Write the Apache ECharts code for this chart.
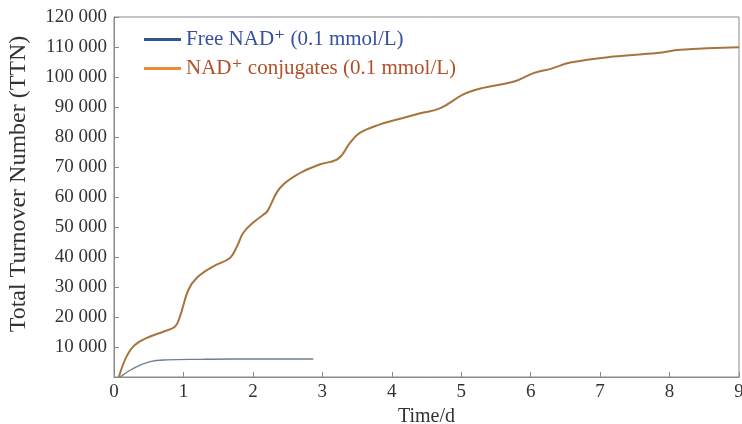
<!DOCTYPE html>
<html>
<head>
<meta charset="utf-8">
<script src="https://cdn.jsdelivr.net/npm/echarts@6/dist/echarts.min.js"></script>
<style>
  html, body { margin: 0; padding: 0; background: #fff; }
  #ttn_chart { width: 742px; height: 424px; }
</style>
</head>
<body>
<div id="ttn_chart"></div>
<script>
// 数据
const freeTime = [0.09, 0.28, 0.52, 0.76, 1.24, 1.72, 2.87];
const freeTTN = [0, 2900, 5100, 5700, 5900, 6000, 6000];

const conjTime = [0.07, 0.18, 0.30, 0.52, 0.71, 0.88, 0.95, 1.07, 1.19, 1.43, 1.67, 1.77, 1.86, 2.0, 2.15, 2.21,
    2.39, 2.68, 2.97, 3.23, 3.40, 3.54, 3.83, 4.12, 4.41, 4.70, 5.03, 5.30, 5.75, 6.04, 6.30, 6.57, 7.19, 7.82, 8.16, 9.0];
const conjTTN = [0, 6800, 10700, 13500, 15100, 16800, 20200, 29000, 33000, 36900, 39700, 43500, 48000, 51400, 54100, 55300,
    63000, 68000, 70900, 72800, 78100, 81400, 84200, 86100, 87900, 89600, 94200, 96300, 98400, 101300, 102800, 104800, 106800, 108000, 109100, 109900];

const seriesNames = ['Free NAD\u207A (0.1 mmol/L)', 'NAD\u207A conjugates (0.1 mmol/L)'];
const xTicks = [0, 1, 2, 3, 4, 5, 6, 7, 8, 9];

function pairs(xs, ys) {
    let out = [];
    for (let i = 0; i < xs.length; i++) {
        out.push([xs[i], ys[i]]);
    }
    return out;
}

const serif = '"Liberation Serif", "DejaVu Serif", serif';
const axisGray = '#8a8a8a';

let chart = echarts.init(document.getElementById('ttn_chart'));
let option = {
    animation: false,
    textStyle: { fontFamily: serif },
    grid: {
        left: 114, right: 3, top: 17, bottom: 47,
        outerBoundsMode: 'none',
        show: true, borderColor: axisGray, borderWidth: 1
    },
    legend: {
        left: 139, top: 24,
        orient: 'vertical',
        itemGap: 8,
        itemWidth: 37,
        itemHeight: 3,
        icon: 'rect',
        textStyle: { fontFamily: serif, fontSize: 21 },
        data: [
            { name: seriesNames[0], itemStyle: { color: '#2f5597' }, textStyle: { color: '#3451a0' } },
            { name: seriesNames[1], itemStyle: { color: '#ed8a3a' }, textStyle: { color: '#b0502a' } }
        ]
    },
    xAxis: {
        type: 'value',
        min: 0, max: 9, interval: 1,
        name: 'Time/d',
        nameLocation: 'middle',
        nameGap: 25,
        nameTextStyle: { fontSize: 20, color: '#333', fontFamily: serif },
        axisLine: { lineStyle: { color: axisGray } },
        axisTick: { inside: true, length: 5, lineStyle: { color: axisGray } },
        axisLabel: { fontSize: 19, color: '#333', margin: 6, formatter: v => xTicks.indexOf(v) >= 0 ? String(v) : '' },
        splitLine: { show: false }
    },
    yAxis: {
        type: 'value',
        min: 0, max: 120000, interval: 10000,
        name: 'Total Turnover Number (TTN)',
        nameLocation: 'middle',
        nameGap: 83,
        nameTextStyle: { fontSize: 24, color: '#333', fontFamily: serif, padding: [0, 0, 0, 26] },
        axisLine: { show: true, lineStyle: { color: axisGray } },
        axisTick: { show: true, inside: true, length: 5, lineStyle: { color: axisGray } },
        axisLabel: {
            fontSize: 19, color: '#333', margin: 7,
            formatter: v => v === 0 ? '' : (Math.floor(v / 1000) + ' ' + String(v % 1000).padStart(3, '0'))
        },
        splitLine: { show: false }
    },
    series: [
        {
            name: seriesNames[0],
            type: 'line',
            data: pairs(freeTime, freeTTN),
            smooth: 0.4,
            symbol: 'none',
            lineStyle: { color: '#6f7f8f', width: 1.3 },
            itemStyle: { color: '#2f5597' }
        },
        {
            name: seriesNames[1],
            type: 'line',
            data: pairs(conjTime, conjTTN),
            smooth: 0.4,
            symbol: 'none',
            lineStyle: { color: '#a8743e', width: 2 },
            itemStyle: { color: '#ed8a3a' }
        }
    ]
};
chart.setOption(option);
</script>
</body>
</html>
